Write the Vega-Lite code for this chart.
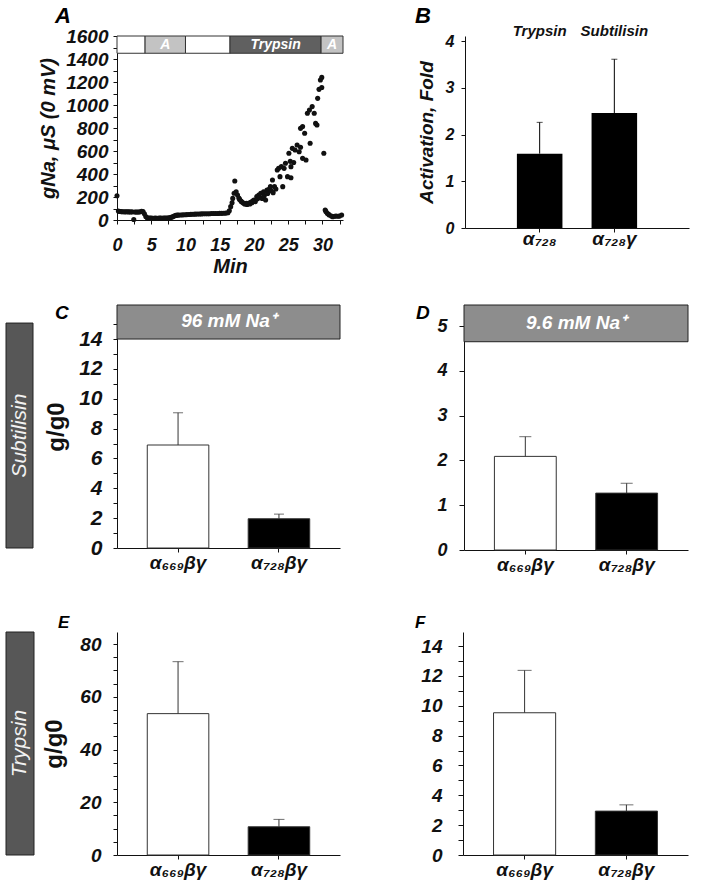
{
 "$schema": "https://vega.github.io/schema/vega-lite/v6.json",
 "background": "white",
 "padding": {"left": 5, "top": 4, "right": 5, "bottom": 5},
 "bounds": "full",
 "spacing": 28,
 "resolve": {"scale": {"fill": "independent", "color": "independent"}},
 "datasets": {
  "trace": [
   {"t":0,"g":211},{"t":0.2,"g":78},{"t":0.4,"g":74},{"t":0.6,"g":73},{"t":0.8,"g":72},{"t":1.0,"g":72},{"t":1.2,"g":71},{"t":1.4,"g":72},{"t":1.6,"g":71},{"t":1.8,"g":71},{"t":2.0,"g":70},{"t":2.2,"g":71},{"t":2.45,"g":5},{"t":2.6,"g":70},{"t":2.8,"g":70},{"t":3.0,"g":69},{"t":3.2,"g":70},{"t":3.4,"g":72},{"t":3.6,"g":75},{"t":3.8,"g":73},{"t":4.0,"g":55},{"t":4.2,"g":30},{"t":4.4,"g":20},{"t":4.6,"g":17},{"t":4.8,"g":16},{"t":5.0,"g":16},{"t":5.2,"g":15},{"t":5.4,"g":15},{"t":5.6,"g":16},{"t":5.8,"g":15},{"t":6.0,"g":15},{"t":6.2,"g":16},{"t":6.4,"g":16},{"t":6.6,"g":15},{"t":6.8,"g":16},{"t":7.0,"g":17},{"t":7.2,"g":16},{"t":7.4,"g":18},{"t":7.6,"g":20},{"t":7.8,"g":22},{"t":8.0,"g":25},{"t":8.2,"g":30},{"t":8.4,"g":36},{"t":8.6,"g":40},{"t":8.8,"g":42},{"t":9.0,"g":43},{"t":9.3,"g":44},{"t":9.6,"g":45},{"t":9.9,"g":46},{"t":10.2,"g":47},{"t":10.5,"g":48},{"t":10.8,"g":49},{"t":11.1,"g":50},{"t":11.4,"g":51},{"t":11.7,"g":52},{"t":12.0,"g":52},{"t":12.3,"g":53},{"t":12.6,"g":54},{"t":12.9,"g":54},{"t":13.2,"g":55},{"t":13.5,"g":55},{"t":13.8,"g":56},{"t":14.1,"g":56},{"t":14.4,"g":57},{"t":14.7,"g":57},{"t":15.0,"g":58},{"t":15.3,"g":58},{"t":15.6,"g":59},{"t":15.9,"g":60},{"t":16.2,"g":63},{"t":16.4,"g":80},{"t":16.6,"g":116},{"t":16.8,"g":150},{"t":16.9,"g":188},{"t":17.1,"g":232},{"t":17.2,"g":339},{"t":17.4,"g":246},{"t":17.6,"g":217},{"t":17.8,"g":190},{"t":17.9,"g":179},{"t":18.1,"g":165},{"t":18.2,"g":159},{"t":18.4,"g":150},{"t":18.6,"g":142},{"t":18.7,"g":139},{"t":18.9,"g":145},{"t":19.0,"g":135},{"t":19.2,"g":145},{"t":19.4,"g":140},{"t":19.5,"g":155},{"t":19.7,"g":151},{"t":19.8,"g":165},{"t":20.0,"g":174},{"t":20.2,"g":160},{"t":20.4,"g":203},{"t":20.5,"g":185},{"t":20.7,"g":217},{"t":20.8,"g":195},{"t":21.0,"g":232},{"t":21.2,"g":188},{"t":21.4,"g":246},{"t":21.5,"g":210},{"t":21.7,"g":174},{"t":21.9,"g":261},{"t":22.0,"g":230},{"t":22.2,"g":267},{"t":22.4,"g":290},{"t":22.5,"g":255},{"t":22.7,"g":348},{"t":22.8,"g":238},{"t":23.0,"g":290},{"t":23.2,"g":270},{"t":23.4,"g":435},{"t":23.6,"g":449},{"t":23.8,"g":377},{"t":24.0,"g":464},{"t":24.2,"g":290},{"t":24.4,"g":449},{"t":24.6,"g":493},{"t":24.9,"g":377},{"t":25.1,"g":580},{"t":25.3,"g":510},{"t":25.4,"g":368},{"t":25.4,"g":464},{"t":25.6,"g":623},{"t":25.8,"g":500},{"t":26.0,"g":609},{"t":26.3,"g":652},{"t":26.6,"g":594},{"t":26.8,"g":632},{"t":26.8,"g":797},{"t":27.1,"g":536},{"t":27.1,"g":812},{"t":27.4,"g":754},{"t":27.6,"g":522},{"t":27.8,"g":928},{"t":28.1,"g":957},{"t":28.2,"g":667},{"t":28.5,"g":986},{"t":28.8,"g":928},{"t":29.0,"g":840},{"t":29.2,"g":826},{"t":29.3,"g":1058},{"t":29.5,"g":1136},{"t":29.7,"g":1217},{"t":29.9,"g":1240},{"t":29.9,"g":1152},{"t":30.2,"g":580},{"t":30.4,"g":87},{"t":30.5,"g":75},{"t":30.7,"g":58},{"t":30.9,"g":50},{"t":31.0,"g":43},{"t":31.3,"g":35},{"t":31.5,"g":29},{"t":31.8,"g":32},{"t":32.0,"g":35},{"t":32.3,"g":33},{"t":32.5,"g":35},{"t":32.8,"g":43}
  ],
  "protocol": [
   {"phase":"ND96","start":0,"end":4.1},
   {"phase":"A","start":4.1,"end":10},
   {"phase":"ND96","start":10,"end":16.5},
   {"phase":"Trypsin","start":16.5,"end":29.8},
   {"phase":"A","start":29.8,"end":33}
  ],
  "fold": [
   {"cat":"α₇₂₈","protease":"Trypsin","val":1.59,"hi":2.26},
   {"cat":"α₇₂₈γ","protease":"Subtilisin","val":2.46,"hi":3.61}
  ],
  "ratio": [
   {"panel":"C","cat":"α₆₆₉βγ","val":6.9,"hi":9.06},
   {"panel":"C","cat":"α₇₂₈βγ","val":1.96,"hi":2.27},
   {"panel":"D","cat":"α₆₆₉βγ","val":2.09,"hi":2.53},
   {"panel":"D","cat":"α₇₂₈βγ","val":1.27,"hi":1.49},
   {"panel":"E","cat":"α₆₆₉βγ","val":53.6,"hi":73.3},
   {"panel":"E","cat":"α₇₂₈βγ","val":10.7,"hi":13.5},
   {"panel":"F","cat":"α₆₆₉βγ","val":9.53,"hi":12.37},
   {"panel":"F","cat":"α₇₂₈βγ","val":2.94,"hi":3.36}
  ],
  "cond": [
   {"panel":"C","protease":"Subtilisin","na":"96 mM Na⁺"},
   {"panel":"D","protease":"Subtilisin","na":"9.6 mM Na⁺"},
   {"panel":"E","protease":"Trypsin","na":""},
   {"panel":"F","protease":"Trypsin","na":""}
  ]
 },
 "vconcat": [
  {
   "hconcat": [
    {
     "hconcat": [
      {"width": 27, "height": 184, "data": {"values": [{}]}, "mark": {"type": "rect", "opacity": 0}, "encoding": {}},
      {
       "width": 226, "height": 184,
       "title": {"text": "A", "dx": -62, "dy": 4.5},
       "layer": [
        {
         "data": {"name": "protocol"},
         "mark": {"type": "rect", "stroke": "#333", "strokeWidth": 1, "opacity": 1},
         "encoding": {
          "x": {"field": "start", "type": "quantitative", "scale": {"domain": [0, 33], "nice": false, "zero": false},
                "axis": {"title": "Min", "values": [0,2.5,5,7.5,10,12.5,15,17.5,20,22.5,25,27.5,30,32.5], "tickCount": 100, "format": "d", "labelExpr": "datum.value % 5 === 0 ? datum.label : ''", "labelOverlap": false, "labelFontSize": 18, "labelPadding": 12, "titleFontSize": 20, "titlePadding": 2}},
          "x2": {"field": "end"},
          "y": {"datum": 1450, "type": "quantitative", "scale": {"domain": [0, 1600], "nice": false},
                "axis": {"title": "gNa, μS (0 mV)", "values": [0,100,200,300,400,500,600,700,800,900,1000,1100,1200,1300,1400,1500,1600], "tickCount": 100, "labelExpr": "datum.value % 200 === 0 ? datum.label : ''", "labelOverlap": false, "format": "d", "labelFontSize": 19, "labelPadding": 5, "titleFontSize": 20, "titlePadding": 7}},
          "y2": {"datum": 1600},
          "color": {"field": "phase", "type": "nominal", "scale": {"domain": ["ND96", "A", "Trypsin"], "range": ["#ffffff", "#c3c3c3", "#606060"]}, "legend": null}
         }
        },
        {
         "data": {"name": "protocol"},
         "transform": [{"filter": "datum.phase !== 'ND96'"}, {"calculate": "(datum.start + datum.end) / 2", "as": "mid"}],
         "mark": {"type": "text", "color": "white", "fontSize": 14, "fontWeight": "bold", "fontStyle": "italic"},
         "encoding": {"x": {"field": "mid", "type": "quantitative"}, "y": {"datum": 1525}, "text": {"field": "phase"}}
        },
        {
         "data": {"name": "trace"},
         "mark": {"type": "circle", "size": 26, "color": "#111", "opacity": 1},
         "encoding": {"x": {"field": "t", "type": "quantitative"}, "y": {"field": "g", "type": "quantitative"}}
        }
       ]
      }
     ],
     "spacing": 84, "bounds": "flush"
    },
    {
     "width": 224, "height": 192,
     "title": {"text": "B", "dx": -50, "dy": 7.5},
     "data": {"name": "fold"},
     "layer": [
      {
       "mark": {"type": "bar", "color": "#000"},
       "encoding": {
        "x": {"field": "cat", "type": "nominal", "sort": null, "scale": {"paddingInner": 0.39, "paddingOuter": 0.695},
              "axis": {"title": null, "labelAngle": 0, "labelFontSize": 19, "labelPadding": -3}},
        "y": {"field": "val", "type": "quantitative", "scale": {"domain": [0, 4.107], "nice": false},
              "axis": {"title": "Activation, Fold", "values": [0,1,2,3,4], "tickCount": 100, "format": "d", "labelOverlap": false, "labelFontSize": 16, "labelPadding": 7, "titleFontSize": 19, "titlePadding": 9}}
       }
      },
      {"mark": {"type": "rule", "color": "#000", "strokeWidth": 1}, "encoding": {"x": {"field": "cat", "type": "nominal", "sort": null}, "y": {"field": "val", "type": "quantitative"}, "y2": {"field": "hi"}}},
      {"mark": {"type": "tick", "color": "#000", "thickness": 1, "size": 6}, "encoding": {"x": {"field": "cat", "type": "nominal", "sort": null}, "y": {"field": "hi", "type": "quantitative"}}},
      {"mark": {"type": "text", "fontSize": 15, "fontWeight": "bold", "fontStyle": "italic", "color": "#111"}, "encoding": {"x": {"field": "cat", "type": "nominal", "sort": null}, "y": {"datum": 4.21}, "text": {"field": "protease"}}}
     ]
    }
   ],
   "spacing": 70, "bounds": "full"
  },
  {
   "vconcat": [
    {
     "hconcat": [
      {
       "hconcat": [
        {
         "width": 27, "height": 243,
         "data": {"name": "cond"}, "transform": [{"filter": "datum.panel === 'C'"}],
         "layer": [
          {"mark": {"type": "rect", "fill": "#575757", "stroke": "#222", "strokeWidth": 1}, "encoding": {"y": {"datum": 0, "type": "quantitative", "scale": {"domain": [0, 16.28], "nice": false}, "axis": null}, "y2": {"datum": 15.07}}},
          {"mark": {"type": "text", "angle": 270, "color": "#f2f2f2", "fontSize": 21, "fontStyle": "italic"}, "encoding": {"y": {"datum": 7.53}, "text": {"field": "protease"}}}
         ]
        },
        {
         "width": 223, "height": 243,
         "title": {"text": "C", "dx": -62, "dy": 22.5, "fontSize": 19},
         "layer": [
          {"data": {"name": "cond"}, "transform": [{"filter": "datum.panel === 'C'"}], "mark": {"type": "rect", "fill": "#8d8d8d", "stroke": "#222", "strokeWidth": 1}, "encoding": {"y": {"datum": 14, "type": "quantitative"}, "y2": {"datum": 16.28}}},
          {"data": {"name": "cond"}, "transform": [{"filter": "datum.panel === 'C'"}], "mark": {"type": "text", "color": "white", "fontSize": 19, "fontWeight": "bold", "fontStyle": "italic"}, "encoding": {"y": {"datum": 15.2}, "text": {"field": "na"}}},
          {
           "data": {"name": "ratio"}, "transform": [{"filter": "datum.panel === 'C'"}],
           "mark": {"type": "bar", "stroke": "#333", "strokeWidth": 1},
           "encoding": {
            "x": {"field": "cat", "type": "nominal", "sort": null, "scale": {"paddingInner": 0.39, "paddingOuter": 0.3},
                  "axis": {"title": null, "labelAngle": 0, "labelFontSize": 19, "labelPadding": 1}},
            "y": {"field": "val", "type": "quantitative", "scale": {"domain": [0, 16.28], "nice": false},
                  "axis": {"title": "g/g0", "titleFontStyle": "normal", "titleFontSize": 24, "titlePadding": 10, "values": [0,1,2,3,4,5,6,7,8,9,10,11,12,13,14,15], "tickCount": 100, "format": "d", "labelExpr": "datum.value % 2 === 0 ? datum.label : ''", "labelOverlap": false, "labelFontSize": 21, "labelPadding": 11}},
            "fill": {"field": "cat", "type": "nominal", "scale": {"domain": ["α₆₆₉βγ", "α₇₂₈βγ"], "range": ["#ffffff", "#000000"]}, "legend": null}
           }
          },
          {"data": {"name": "ratio"}, "transform": [{"filter": "datum.panel === 'C'"}], "mark": {"type": "rule", "color": "#333", "strokeWidth": 1}, "encoding": {"x": {"field": "cat", "type": "nominal", "sort": null}, "y": {"field": "val", "type": "quantitative"}, "y2": {"field": "hi"}}},
          {"data": {"name": "ratio"}, "transform": [{"filter": "datum.panel === 'C'"}], "mark": {"type": "tick", "color": "#333", "thickness": 1, "size": 10}, "encoding": {"x": {"field": "cat", "type": "nominal", "sort": null}, "y": {"field": "hi", "type": "quantitative"}}}
         ]
        }
       ],
       "spacing": 84, "bounds": "flush"
      },
      {
       "width": 224, "height": 245,
       "title": {"text": "D", "dx": -48, "dy": 22.5, "fontSize": 19},
       "layer": [
        {"data": {"name": "cond"}, "transform": [{"filter": "datum.panel === 'D'"}], "mark": {"type": "rect", "fill": "#8d8d8d", "stroke": "#222", "strokeWidth": 1}, "encoding": {"y": {"datum": 4.65, "type": "quantitative"}, "y2": {"datum": 5.47}}},
        {"data": {"name": "cond"}, "transform": [{"filter": "datum.panel === 'D'"}], "mark": {"type": "text", "color": "white", "fontSize": 19, "fontWeight": "bold", "fontStyle": "italic"}, "encoding": {"y": {"datum": 5.06}, "text": {"field": "na"}}},
        {
         "data": {"name": "ratio"}, "transform": [{"filter": "datum.panel === 'D'"}],
         "mark": {"type": "bar", "stroke": "#333", "strokeWidth": 1},
         "encoding": {
          "x": {"field": "cat", "type": "nominal", "sort": null, "scale": {"paddingInner": 0.39, "paddingOuter": 0.3},
                "axis": {"title": null, "labelAngle": 0, "labelFontSize": 19, "labelPadding": 1}},
          "y": {"field": "val", "type": "quantitative", "scale": {"domain": [0, 5.47], "nice": false},
                "axis": {"title": null, "values": [0,1,2,3,4,5], "tickCount": 100, "format": "d", "labelOverlap": false, "labelFontSize": 18, "labelPadding": 12, "tickSize": 5}},
          "fill": {"field": "cat", "type": "nominal", "scale": {"domain": ["α₆₆₉βγ", "α₇₂₈βγ"], "range": ["#ffffff", "#000000"]}, "legend": null}
         }
        },
        {"data": {"name": "ratio"}, "transform": [{"filter": "datum.panel === 'D'"}], "mark": {"type": "rule", "color": "#333", "strokeWidth": 1}, "encoding": {"x": {"field": "cat", "type": "nominal", "sort": null}, "y": {"field": "val", "type": "quantitative"}, "y2": {"field": "hi"}}},
        {"data": {"name": "ratio"}, "transform": [{"filter": "datum.panel === 'D'"}], "mark": {"type": "tick", "color": "#333", "thickness": 1, "size": 12}, "encoding": {"x": {"field": "cat", "type": "nominal", "sort": null}, "y": {"field": "hi", "type": "quantitative"}}}
       ]
      }
     ],
     "spacing": 75, "bounds": "full"
    },
    {
     "hconcat": [
      {
       "hconcat": [
        {
         "width": 28, "height": 223,
         "data": {"name": "cond"}, "transform": [{"filter": "datum.panel === 'E'"}],
         "layer": [
          {"mark": {"type": "rect", "fill": "#575757", "stroke": "#222", "strokeWidth": 1}, "encoding": {}},
          {"mark": {"type": "text", "angle": 270, "color": "#f2f2f2", "fontSize": 21, "fontStyle": "italic"}, "encoding": {"text": {"field": "protease"}}}
         ]
        },
        {
         "width": 223, "height": 223,
         "title": {"text": "E", "dx": -59, "dy": 4, "fontSize": 17},
         "data": {"name": "ratio"}, "transform": [{"filter": "datum.panel === 'E'"}],
         "layer": [
          {
           "mark": {"type": "bar", "stroke": "#333", "strokeWidth": 1},
           "encoding": {
            "x": {"field": "cat", "type": "nominal", "sort": null, "scale": {"paddingInner": 0.39, "paddingOuter": 0.3},
                  "axis": {"title": null, "labelAngle": 0, "labelFontSize": 19, "labelPadding": 1}},
            "y": {"field": "val", "type": "quantitative", "scale": {"domain": [0, 84.55], "nice": false},
                  "axis": {"title": "g/g0", "titleFontStyle": "normal", "titleFontSize": 24, "titlePadding": 13, "values": [0,5,10,15,20,25,30,35,40,45,50,55,60,65,70,75,80], "tickCount": 100, "format": "d", "labelExpr": "datum.value % 20 === 0 ? datum.label : ''", "labelOverlap": false, "labelFontSize": 19, "labelPadding": 12}},
            "fill": {"field": "cat", "type": "nominal", "scale": {"domain": ["α₆₆₉βγ", "α₇₂₈βγ"], "range": ["#ffffff", "#000000"]}, "legend": null}
           }
          },
          {"mark": {"type": "rule", "color": "#333", "strokeWidth": 1}, "encoding": {"x": {"field": "cat", "type": "nominal", "sort": null}, "y": {"field": "val", "type": "quantitative"}, "y2": {"field": "hi"}}},
          {"mark": {"type": "tick", "color": "#333", "thickness": 1, "size": 11}, "encoding": {"x": {"field": "cat", "type": "nominal", "sort": null}, "y": {"field": "hi", "type": "quantitative"}}}
         ]
        }
       ],
       "spacing": 83, "bounds": "flush"
      },
      {
       "width": 225, "height": 223,
       "title": {"text": "F", "dx": -48, "dy": 4, "fontSize": 17},
       "data": {"name": "ratio"}, "transform": [{"filter": "datum.panel === 'F'"}],
       "layer": [
        {
         "mark": {"type": "bar", "stroke": "#333", "strokeWidth": 1},
         "encoding": {
          "x": {"field": "cat", "type": "nominal", "sort": null, "scale": {"paddingInner": 0.39, "paddingOuter": 0.3},
                "axis": {"title": null, "labelAngle": 0, "labelFontSize": 19, "labelPadding": 1}},
          "y": {"field": "val", "type": "quantitative", "scale": {"domain": [0, 14.94], "nice": false},
                "axis": {"title": null, "values": [0,1,2,3,4,5,6,7,8,9,10,11,12,13,14], "tickCount": 100, "format": "d", "labelExpr": "datum.value % 2 === 0 ? datum.label : ''", "labelOverlap": false, "labelFontSize": 19, "labelPadding": 16, "tickSize": 5}},
          "fill": {"field": "cat", "type": "nominal", "scale": {"domain": ["α₆₆₉βγ", "α₇₂₈βγ"], "range": ["#ffffff", "#000000"]}, "legend": null}
         }
        },
        {"mark": {"type": "rule", "color": "#333", "strokeWidth": 1}, "encoding": {"x": {"field": "cat", "type": "nominal", "sort": null}, "y": {"field": "val", "type": "quantitative"}, "y2": {"field": "hi"}}},
        {"mark": {"type": "tick", "color": "#333", "thickness": 1, "size": 14}, "encoding": {"x": {"field": "cat", "type": "nominal", "sort": null}, "y": {"field": "hi", "type": "quantitative"}}}
       ]
      }
     ],
     "spacing": 75, "bounds": "full"
    }
   ],
   "spacing": 40, "bounds": "full"
  }
 ],
 "config": {
  "font": "Liberation Sans",
  "view": {"stroke": null},
  "axis": {"grid": false, "domainColor": "#111", "tickColor": "#111", "labelColor": "#111", "titleColor": "#111", "labelFont": "Liberation Sans", "titleFont": "Liberation Sans", "labelFontWeight": "bold", "labelFontStyle": "italic", "titleFontWeight": "bold", "titleFontStyle": "italic", "tickSize": 4, "labelFlush": false, "labelOverlap": false, "domainWidth": 1, "tickWidth": 1},
  "title": {"font": "Liberation Sans", "fontSize": 22, "fontWeight": "bold", "fontStyle": "italic", "color": "#000", "anchor": "start", "frame": "group", "offset": 0},
  "text": {"font": "Liberation Sans"}
 }
}
